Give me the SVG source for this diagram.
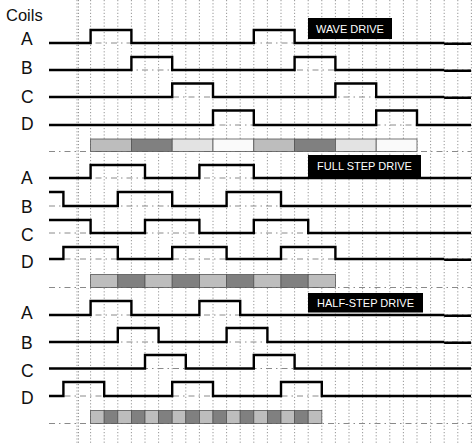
<svg xmlns="http://www.w3.org/2000/svg" width="476" height="443" viewBox="0 0 476 443">
<style>
.grid{stroke:#8a8a8a;stroke-width:0.9;stroke-dasharray:1.2,2}
.base{stroke:#8a8a8a;stroke-width:1;stroke-dasharray:6,4,1.5,4;fill:none}
.sig{stroke:#000;stroke-width:2.4;fill:none;stroke-linejoin:miter}
.lbl{font-family:"Liberation Sans",Arial,sans-serif;font-size:17.5px;fill:#111}
.tag{fill:#000}
.tagt{font-family:"Liberation Sans",Arial,sans-serif;font-size:11px;fill:#fff;text-anchor:middle}
.bx{stroke:#555;stroke-width:0.8}
.l{fill:#bdbdbd}.d{fill:#808080}.vl{fill:#e3e3e3}.w{fill:#fafafa}
</style>
<rect width="476" height="443" fill="#fff"/>
<g id="grid">
<path class="grid" d="M77,0V443M90.6,0V443M104.2,0V443M117.8,0V443M131.4,0V443M145,0V443M158.6,0V443M172.2,0V443M185.8,0V443M199.4,0V443M213,0V443M226.6,0V443M240.2,0V443M253.8,0V443M267.4,0V443M281,0V443M294.6,0V443M308.2,0V443M321.8,0V443M335.4,0V443M349,0V443M362.6,0V443M376.2,0V443M389.8,0V443M403.4,0V443M417,0V443M430.6,0V443M444.2,0V443M457.8,0V443M471.4,0V443"/>
<path class="grid" d="M78.5,0V443"/>
</g>
<g id="baselines">
<path class="base" d="M49,43H471M49,70H471M49,97H471M49,125H471M49,151.5H471M49,178H471M49,206H471M49,233H471M49,259H471M49,287.5H471M49,315H471M49,342H471M49,368.5H471M49,396H471M49,423.5H471"/>
</g>
<text class="lbl" x="6" y="21" style="font-size:16.5px">Coils</text>
<g id="wave">
<rect class="tag" x="308" y="18" width="84" height="21"/>
<text class="tagt" x="350" y="32.5">WAVE DRIVE</text>
<text class="lbl" x="21" y="44.5">A</text>
<text class="lbl" x="21" y="73.5">B</text>
<text class="lbl" x="21" y="102.5">C</text>
<text class="lbl" x="21" y="129.5">D</text>
<path class="sig" d="M49,43H90.6V30H131.4V43H253.8V30H294.6V43H444.2M444.2,43.7H471"/>
<path class="sig" d="M49,70H131.4V57H172.2V70H294.6V57H335.4V70H444.2M444.2,70.7H471"/>
<path class="sig" d="M49,97H172.2V83.5H213V97H335.4V83.5H376.2V97H444.2M444.2,97.7H471"/>
<path class="sig" d="M49,125H213V110.5H253.8V125H376.2V110.5H417V125H471"/>
<g class="bx">
<rect class="l" x="90.6" y="139" width="40.8" height="12.5"/>
<rect class="d" x="131.4" y="139" width="40.8" height="12.5"/>
<rect class="vl" x="172.2" y="139" width="40.8" height="12.5"/>
<rect class="w" x="213" y="139" width="40.8" height="12.5"/>
<rect class="l" x="253.8" y="139" width="40.8" height="12.5"/>
<rect class="d" x="294.6" y="139" width="40.8" height="12.5"/>
<rect class="vl" x="335.4" y="139" width="40.8" height="12.5"/>
<rect class="w" x="376.2" y="139" width="40.8" height="12.5"/>
</g>
</g>
<g id="fullstep">
<rect class="tag" x="308" y="155" width="113" height="22"/>
<text class="tagt" x="364.5" y="170">FULL STEP DRIVE</text>
<text class="lbl" x="21" y="183.5">A</text>
<text class="lbl" x="21" y="212.5">B</text>
<text class="lbl" x="21" y="240.5">C</text>
<text class="lbl" x="21" y="267.5">D</text>
<path class="sig" d="M49,178H90.6V165H145V178H199.4V165H253.8V178H471"/>
<path class="sig" d="M49,192H63.4V206H117.8V192H172.2V206H226.6V192H281V206H471"/>
<path class="sig" d="M49,220H90.6V233H145V220H199.4V233H253.8V220H308.2V233H471"/>
<path class="sig" d="M49,259H63.4V247H117.8V259H172.2V247H226.6V259H281V247H335.4V259H444.2M444.2,259.7H471"/>
<g class="bx">
<rect class="l" x="90.6" y="274.5" width="27.2" height="13"/>
<rect class="d" x="117.8" y="274.5" width="27.2" height="13"/>
<rect class="l" x="145" y="274.5" width="27.2" height="13"/>
<rect class="d" x="172.2" y="274.5" width="27.2" height="13"/>
<rect class="l" x="199.4" y="274.5" width="27.2" height="13"/>
<rect class="d" x="226.6" y="274.5" width="27.2" height="13"/>
<rect class="l" x="253.8" y="274.5" width="27.2" height="13"/>
<rect class="d" x="281" y="274.5" width="27.2" height="13"/>
<rect class="l" x="308.2" y="274.5" width="27.2" height="13"/>
</g>
</g>
<g id="halfstep">
<rect class="tag" x="308" y="293" width="115" height="19.5"/>
<text class="tagt" x="365.5" y="306.5">HALF-STEP DRIVE</text>
<text class="lbl" x="21" y="318.5">A</text>
<text class="lbl" x="21" y="348.5">B</text>
<text class="lbl" x="21" y="376.5">C</text>
<text class="lbl" x="21" y="403.5">D</text>
<path class="sig" d="M49,315H90.6V301H131.4V315H199.4V301H240.2V315H444.2M444.2,315.7H471"/>
<path class="sig" d="M49,342H117.8V328H158.6V342H226.6V328H267.4V342H444.2M444.2,342.7H471"/>
<path class="sig" d="M49,368.5H145V355H185.8V368.5H253.8V355H294.6V368.5H471"/>
<path class="sig" d="M49,396H63.4V382H104.2V396H172.2V382H213V396H281V382H321.8V396H471"/>
<g class="bx">
<rect class="l" x="90.6" y="410.5" width="13.6" height="13"/>
<rect class="d" x="104.2" y="410.5" width="13.6" height="13"/>
<rect class="l" x="117.8" y="410.5" width="13.6" height="13"/>
<rect class="d" x="131.4" y="410.5" width="13.6" height="13"/>
<rect class="l" x="145" y="410.5" width="13.6" height="13"/>
<rect class="d" x="158.6" y="410.5" width="13.6" height="13"/>
<rect class="l" x="172.2" y="410.5" width="13.6" height="13"/>
<rect class="d" x="185.8" y="410.5" width="13.6" height="13"/>
<rect class="l" x="199.4" y="410.5" width="13.6" height="13"/>
<rect class="d" x="213" y="410.5" width="13.6" height="13"/>
<rect class="l" x="226.6" y="410.5" width="13.6" height="13"/>
<rect class="d" x="240.2" y="410.5" width="13.6" height="13"/>
<rect class="l" x="253.8" y="410.5" width="13.6" height="13"/>
<rect class="d" x="267.4" y="410.5" width="13.6" height="13"/>
<rect class="l" x="281" y="410.5" width="13.6" height="13"/>
<rect class="d" x="294.6" y="410.5" width="13.6" height="13"/>
<rect class="l" x="308.2" y="410.5" width="13.6" height="13"/>
</g>
</g>
</svg>
